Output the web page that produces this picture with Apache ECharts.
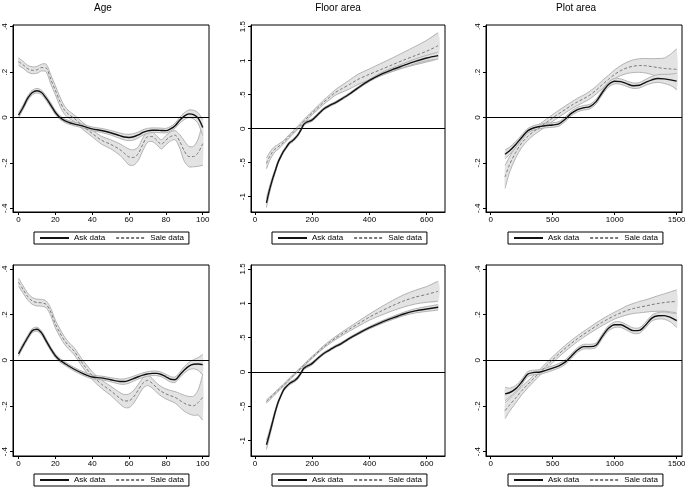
<!DOCTYPE html>
<html>
<head>
<meta charset="utf-8">
<script src="https://cdn.jsdelivr.net/npm/echarts@6/dist/echarts.min.js"></script>
<style>html,body{margin:0;padding:0;background:#fff;}#c{width:685px;height:489px;}</style>
</head>
<body>
<div id="c"></div>
<script>
// ---------- data ----------
const titles = ['Age', 'Floor area', 'Plot area'];
const ageTicks = [0, 20, 40, 60, 80, 100];
const floorTicks = [0, 200, 400, 600];
const plotTicks = [0, 500, 1000, 1500];
const smallYTicks = [-0.4, -0.2, 0, 0.2, 0.4];
const floorYTicks = [-1, -0.5, 0, 0.5, 1, 1.5];

const ageX = [0,2.5,5,7.5,10,12.5,15,17.5,20,22.5,25,27.5,30,35,40,45,50,55,57.5,60,62.5,65,67.5,70,72.5,75,77.5,80,82.5,85,87.5,90,92.5,95,97.5,100];
const ageTopAsk = [0.010,0.045,0.085,0.110,0.118,0.110,0.085,0.055,0.022,0.000,-0.014,-0.022,-0.028,-0.038,-0.050,-0.057,-0.067,-0.080,-0.086,-0.088,-0.085,-0.077,-0.066,-0.059,-0.056,-0.056,-0.057,-0.058,-0.050,-0.036,-0.012,0.006,0.016,0.013,-0.003,-0.044];
const ageTopAskCI = [0.012,0.010,0.010,0.010,0.010,0.010,0.010,0.010,0.009,0.008,0.008,0.008,0.008,0.008,0.008,0.009,0.010,0.012,0.013,0.014,0.014,0.013,0.012,0.011,0.010,0.010,0.010,0.010,0.010,0.011,0.013,0.015,0.017,0.019,0.024,0.035];
const ageTopSale = [0.246,0.232,0.215,0.208,0.210,0.220,0.218,0.168,0.120,0.070,0.032,0.012,-0.002,-0.038,-0.070,-0.100,-0.118,-0.141,-0.158,-0.174,-0.176,-0.159,-0.118,-0.085,-0.084,-0.100,-0.118,-0.100,-0.084,-0.078,-0.105,-0.148,-0.172,-0.172,-0.155,-0.115];
const ageTopSaleCI = [0.017,0.015,0.015,0.015,0.015,0.015,0.017,0.020,0.020,0.020,0.018,0.016,0.015,0.015,0.015,0.017,0.020,0.025,0.030,0.035,0.034,0.030,0.028,0.025,0.022,0.020,0.020,0.020,0.020,0.020,0.030,0.045,0.045,0.045,0.060,0.095];
const ageBotAsk = [0.028,0.065,0.100,0.130,0.136,0.120,0.085,0.050,0.020,0.000,-0.013,-0.026,-0.038,-0.058,-0.073,-0.077,-0.085,-0.093,-0.093,-0.088,-0.080,-0.072,-0.065,-0.060,-0.057,-0.057,-0.062,-0.072,-0.083,-0.085,-0.064,-0.042,-0.025,-0.017,-0.016,-0.019];
const ageBotAskCI = [0.010,0.009,0.009,0.009,0.009,0.009,0.009,0.008,0.008,0.008,0.008,0.008,0.008,0.008,0.008,0.008,0.009,0.011,0.012,0.012,0.011,0.010,0.010,0.010,0.010,0.010,0.010,0.011,0.012,0.012,0.012,0.014,0.016,0.020,0.028,0.045];
const ageBotSale = [0.342,0.310,0.279,0.260,0.253,0.252,0.245,0.212,0.159,0.120,0.086,0.062,0.042,-0.016,-0.067,-0.104,-0.133,-0.166,-0.178,-0.177,-0.160,-0.130,-0.100,-0.088,-0.100,-0.120,-0.136,-0.147,-0.155,-0.162,-0.175,-0.188,-0.196,-0.199,-0.185,-0.162];
const ageBotSaleCI = [0.018,0.016,0.015,0.015,0.015,0.015,0.015,0.016,0.017,0.017,0.016,0.015,0.015,0.016,0.017,0.018,0.020,0.025,0.028,0.030,0.028,0.025,0.023,0.022,0.021,0.020,0.021,0.022,0.023,0.025,0.030,0.035,0.038,0.042,0.055,0.100];

const floorX = [40,50,60,70,80,90,100,110,120,130,140,150,160,170,180,190,200,220,240,260,280,300,330,360,400,440,480,520,560,600,640];
const floorTopAsk = [-1.09,-0.91,-0.76,-0.63,-0.50,-0.41,-0.33,-0.27,-0.21,-0.18,-0.14,-0.09,-0.02,0.06,0.095,0.11,0.13,0.21,0.29,0.34,0.38,0.43,0.51,0.60,0.71,0.80,0.87,0.93,0.99,1.04,1.075];
const floorTopAskCI = [0.07,0.05,0.04,0.03,0.025,0.02,0.02,0.02,0.02,0.02,0.02,0.02,0.02,0.02,0.02,0.02,0.02,0.018,0.017,0.016,0.016,0.016,0.016,0.016,0.017,0.02,0.025,0.03,0.035,0.04,0.05];
const floorTopSale = [-0.51,-0.42,-0.35,-0.30,-0.27,-0.235,-0.20,-0.155,-0.11,-0.07,-0.025,0.015,0.06,0.105,0.15,0.19,0.23,0.31,0.39,0.46,0.53,0.58,0.65,0.725,0.80,0.87,0.94,1.01,1.075,1.14,1.22];
const floorTopSaleCI = [0.08,0.06,0.05,0.04,0.035,0.03,0.025,0.025,0.025,0.025,0.025,0.025,0.025,0.025,0.025,0.025,0.025,0.028,0.03,0.035,0.04,0.05,0.065,0.075,0.08,0.09,0.10,0.115,0.135,0.16,0.19];
const floorBotAsk = [-1.06,-0.91,-0.75,-0.59,-0.45,-0.35,-0.26,-0.21,-0.17,-0.145,-0.12,-0.08,-0.02,0.05,0.08,0.10,0.125,0.20,0.27,0.32,0.37,0.41,0.49,0.56,0.645,0.72,0.785,0.845,0.89,0.917,0.942];
const floorBotAskCI = [0.07,0.05,0.04,0.03,0.025,0.02,0.02,0.02,0.02,0.02,0.02,0.02,0.02,0.02,0.02,0.02,0.02,0.018,0.017,0.016,0.016,0.016,0.016,0.016,0.017,0.02,0.022,0.025,0.03,0.035,0.04];
const floorBotSale = [-0.43,-0.39,-0.35,-0.31,-0.27,-0.23,-0.19,-0.15,-0.105,-0.065,-0.025,0.015,0.055,0.095,0.135,0.175,0.214,0.29,0.365,0.43,0.49,0.545,0.625,0.70,0.80,0.885,0.965,1.035,1.09,1.13,1.175];
const floorBotSaleCI = [0.025,0.022,0.02,0.018,0.017,0.016,0.015,0.015,0.015,0.015,0.015,0.015,0.015,0.015,0.015,0.015,0.015,0.016,0.018,0.02,0.022,0.025,0.03,0.035,0.045,0.06,0.075,0.09,0.1,0.115,0.145];

const plotX = [116,150,200,250,300,350,400,450,500,550,600,650,700,750,800,850,900,950,1000,1050,1100,1150,1200,1250,1300,1350,1400,1450,1500];
const plotTopAsk = [-0.162,-0.148,-0.12,-0.088,-0.058,-0.045,-0.039,-0.035,-0.033,-0.028,-0.008,0.018,0.035,0.043,0.048,0.07,0.11,0.145,0.16,0.158,0.148,0.14,0.142,0.155,0.166,0.172,0.17,0.166,0.16];
const plotTopAskCI = [0.02,0.016,0.013,0.011,0.01,0.01,0.01,0.01,0.01,0.01,0.01,0.01,0.01,0.01,0.01,0.01,0.01,0.011,0.012,0.012,0.012,0.012,0.012,0.013,0.015,0.017,0.02,0.025,0.035];
const plotTopSale = [-0.262,-0.21,-0.155,-0.112,-0.083,-0.06,-0.042,-0.022,-0.002,0.017,0.035,0.053,0.069,0.083,0.099,0.12,0.145,0.168,0.19,0.207,0.219,0.226,0.229,0.228,0.224,0.22,0.216,0.214,0.212];
const plotTopSaleCI = [0.05,0.035,0.025,0.02,0.017,0.016,0.015,0.015,0.015,0.015,0.015,0.015,0.016,0.016,0.017,0.017,0.018,0.018,0.02,0.022,0.025,0.028,0.03,0.032,0.035,0.04,0.046,0.065,0.09];
const plotBotAsk = [-0.147,-0.142,-0.125,-0.095,-0.06,-0.053,-0.051,-0.043,-0.034,-0.024,-0.008,0.018,0.045,0.06,0.06,0.066,0.105,0.14,0.156,0.156,0.143,0.13,0.131,0.155,0.185,0.195,0.196,0.188,0.174];
const plotBotAskCI = [0.03,0.02,0.014,0.012,0.011,0.01,0.01,0.01,0.01,0.01,0.01,0.01,0.01,0.01,0.01,0.01,0.01,0.011,0.012,0.012,0.012,0.012,0.012,0.012,0.013,0.014,0.016,0.02,0.03];
const plotBotSale = [-0.22,-0.197,-0.166,-0.133,-0.105,-0.078,-0.051,-0.024,0.003,0.028,0.052,0.074,0.095,0.114,0.132,0.15,0.167,0.182,0.196,0.208,0.219,0.227,0.233,0.238,0.244,0.249,0.253,0.256,0.258];
const plotBotSaleCI = [0.035,0.028,0.022,0.018,0.015,0.014,0.013,0.013,0.013,0.013,0.013,0.013,0.013,0.013,0.013,0.014,0.014,0.015,0.015,0.017,0.02,0.022,0.025,0.027,0.03,0.034,0.038,0.044,0.05];

// ---------- layout ----------
const FONT = 'Liberation Sans, Arial, Helvetica, sans-serif';
const cols = [{left: 13, width: 196}, {left: 251, width: 194}, {left: 486, width: 196}];
const rows = [{top: 25, height: 187}, {top: 265, height: 191}];
const legendLeft = [34, 272, 508];
const legendTop = [232, 474];

const panels = [
  {r:0,c:0,x:ageX,ask:ageTopAsk,askCI:ageTopAskCI,sale:ageTopSale,saleCI:ageTopSaleCI,xr:[-3,103.4],yr:[-0.4163,0.4075],xt:ageTicks,yt:smallYTicks},
  {r:0,c:1,x:floorX,ask:floorTopAsk,askCI:floorTopAskCI,sale:floorTopSale,saleCI:floorTopSaleCI,xr:[-14,664],yr:[-1.225,1.525],xt:floorTicks,yt:floorYTicks},
  {r:0,c:2,x:plotX,ask:plotTopAsk,askCI:plotTopAskCI,sale:plotTopSale,saleCI:plotTopSaleCI,xr:[-38,1543],yr:[-0.4163,0.4075],xt:plotTicks,yt:smallYTicks},
  {r:1,c:0,x:ageX,ask:ageBotAsk,askCI:ageBotAskCI,sale:ageBotSale,saleCI:ageBotSaleCI,xr:[-3,103.4],yr:[-0.419,0.4175],xt:ageTicks,yt:smallYTicks},
  {r:1,c:1,x:floorX,ask:floorBotAsk,askCI:floorBotAskCI,sale:floorBotSale,saleCI:floorBotSaleCI,xr:[-14,664],yr:[-1.223,1.558],xt:floorTicks,yt:floorYTicks},
  {r:1,c:2,x:plotX,ask:plotBotAsk,askCI:plotBotAskCI,sale:plotBotSale,saleCI:plotBotSaleCI,xr:[-38,1543],yr:[-0.419,0.4175],xt:plotTicks,yt:smallYTicks}
];

function yFmt(v) {
  const r = Math.round(v * 100) / 100;
  if (r === 0) return '0';
  let s = String(r);
  s = s.replace(/^0\./, '.').replace(/^-0\./, '-.');
  return s;
}
function xFmt(v) { return String(Math.round(v)); }

const SM = 0.3;
function bandSeries(i, xs, ys, ci) {
  return {
    type: 'custom', xAxisIndex: i, yAxisIndex: i, silent: true, z: 1,
    data: xs.map((x, k) => [x, ys[k] - ci[k], ys[k] + ci[k]]),
    encode: {x: 0, y: [1, 2]},
    renderItem: function (params, api) {
      if (params.dataIndex !== 0) return null;
      const up = xs.map((x, k) => api.coord([x, ys[k] + ci[k]]));
      const lo = xs.map((x, k) => api.coord([x, ys[k] - ci[k]]));
      const poly = up.concat(lo.slice().reverse());
      return {type: 'group', children: [
        {type: 'polygon', shape: {points: poly, smooth: SM}, style: {fill: '#e3e3e3', stroke: null}},
        {type: 'polyline', shape: {points: up, smooth: SM}, style: {stroke: '#acacac', lineWidth: 0.9, fill: null}},
        {type: 'polyline', shape: {points: lo, smooth: SM}, style: {stroke: '#acacac', lineWidth: 0.9, fill: null}}
      ]};
    }
  };
}

const grid = [], xAxis = [], yAxis = [], series = [], legend = [];
panels.forEach((p, i) => {
  grid.push({left: cols[p.c].left, width: cols[p.c].width, top: rows[p.r].top, height: rows[p.r].height,
    show: true, borderColor: '#000', borderWidth: 1, backgroundColor: '#fff', containLabel: false, outerBoundsMode: 'none'});
  xAxis.push({type: 'value', gridIndex: i, min: p.xr[0], max: p.xr[1],
    splitLine: {show: false},
    axisLine: {show: true, onZero: false, lineStyle: {color: '#000', width: 1}},
    axisTick: {show: true, length: 3, lineStyle: {color: '#000'}, customValues: p.xt},
    axisLabel: {show: true, margin: 4, fontSize: 8, fontFamily: FONT, color: '#000', customValues: p.xt,
      formatter: xFmt, showMinLabel: true, showMaxLabel: true, hideOverlap: false}
  });
  yAxis.push({type: 'value', gridIndex: i, min: p.yr[0], max: p.yr[1],
    splitLine: {show: false},
    axisLine: {show: true, onZero: false, lineStyle: {color: '#000', width: 1}},
    axisTick: {show: true, length: 3, lineStyle: {color: '#000'}, customValues: p.yt},
    axisLabel: {show: true, rotate: 90, margin: 4, fontSize: 8, fontFamily: FONT, color: '#000', customValues: p.yt,
      formatter: yFmt, showMinLabel: true, showMaxLabel: true, hideOverlap: false}
  });
  series.push(bandSeries(i, p.x, p.sale, p.saleCI));
  series.push(bandSeries(i, p.x, p.ask, p.askCI));
  series.push({type: 'line', name: 'Sale data', xAxisIndex: i, yAxisIndex: i, z: 3,
    data: p.x.map((x, k) => [x, p.sale[k]]), smooth: SM, symbol: 'none',
    lineStyle: {color: '#7a7a7a', width: 1, type: [3, 2]}, itemStyle: {color: '#7a7a7a'}});
  series.push({type: 'line', name: 'Ask data', xAxisIndex: i, yAxisIndex: i, z: 4,
    data: p.x.map((x, k) => [x, p.ask[k]]), smooth: SM, symbol: 'none',
    lineStyle: {color: '#111', width: 1.4, type: 'solid'}, itemStyle: {color: '#111'},
    markLine: {silent: true, symbol: ['none', 'none'], label: {show: false},
      lineStyle: {color: '#000', width: 1, type: 'solid'}, data: [{yAxis: 0}], z: 2}});
  legend.push({left: legendLeft[p.c], top: legendTop[p.r], orient: 'horizontal',
    data: ['Ask data', 'Sale data'], selectedMode: false,
    itemWidth: 29, itemHeight: 8, itemGap: 10, padding: [2, 5, 2, 5],
    itemStyle: {opacity: 0, borderWidth: 0},
    borderColor: '#000', borderWidth: 1, borderRadius: 0, backgroundColor: '#fff',
    textStyle: {fontSize: 8, fontFamily: FONT, color: '#000'}});
});

const graphic = titles.map((t, c) => ({
  type: 'text', x: [103, 338, 576][c], y: 8,
  style: {text: t, fontSize: 10, fontFamily: FONT, fill: '#000', align: 'center', verticalAlign: 'middle'}
}));

const chart = echarts.init(document.getElementById('c'), null, {renderer: 'canvas'});
chart.setOption({
  animation: false,
  backgroundColor: '#fff',
  grid, xAxis, yAxis, series, legend, graphic,
  tooltip: {show: false}
});
</script>
</body>
</html>
